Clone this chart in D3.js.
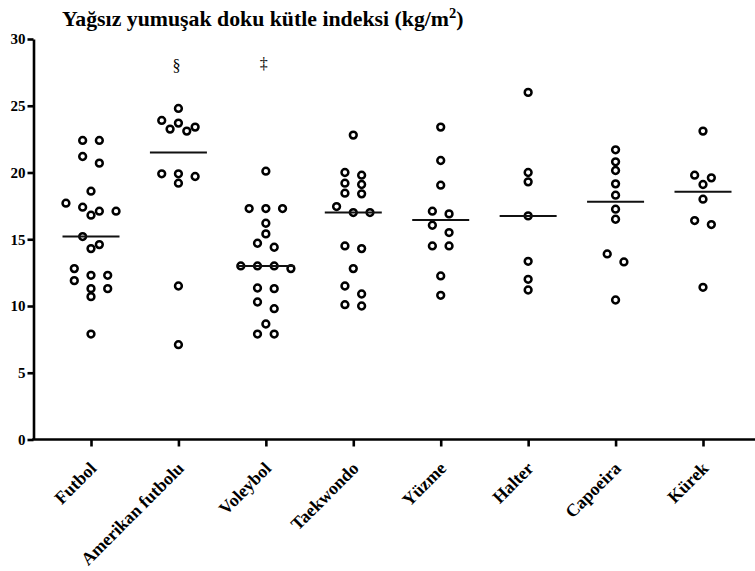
<!DOCTYPE html>
<html><head><meta charset="utf-8">
<script src="https://cdn.jsdelivr.net/npm/d3@7"></script>
<style>
html,body{margin:0;padding:0;background:#fff;}
svg{display:block;font-family:"Liberation Serif","Times New Roman",serif;}
</style></head>
<body><svg id="chart" width="755" height="571"></svg>
<script>
// ---- data ----
const categories = ["Futbol","Amerikan futbolu","Voleybol","Taekwondo","Yüzme","Halter","Capoeira","Kürek"];
const futbol    = [22.4,22.4,21.2,20.7,18.6,17.7,17.4,17.1,17.1,16.8,15.2,14.6,14.3,12.8,12.3,12.3,11.9,11.3,11.3,10.7,7.9];
const amerikan  = [24.8,23.9,23.7,23.4,23.25,23.1,19.9,19.9,19.7,19.2,11.5,7.1];
const voleybol  = [20.1,17.3,17.3,17.3,16.2,15.4,14.7,14.4,13.0,13.0,13.0,12.8,11.35,11.3,10.3,9.8,8.65,7.9,7.9];
const taekwondo = [22.8,20.0,19.8,19.2,19.1,18.45,18.4,17.45,17.0,17.0,14.5,14.3,12.8,11.5,10.9,10.1,10.0];
const yuzme     = [23.4,20.9,19.05,17.1,16.9,16.05,15.5,14.5,14.5,12.25,10.8];
const halter    = [26.0,20.0,19.3,16.75,13.35,12.0,11.2];
const capoeira  = [21.7,20.8,20.15,19.15,18.3,17.25,16.5,13.9,13.3,10.45];
const kurek     = [23.1,19.8,19.6,19.1,18.0,16.4,16.1,11.4];
const medians   = [15.2,21.5,13.0,17.0,16.45,16.75,17.8,18.55];
const yTicks    = [0,5,10,15,20,25,30];
const annotations = [{cat:"Amerikan futbolu", mark:"§", value:28},{cat:"Voleybol", mark:"‡", value:28.2}];
const titleMain = "Yağsız yumuşak doku kütle indeksi (kg/m";
const titleSup = "2";
const titleEnd = ")";

const seriesValues = [futbol,amerikan,voleybol,taekwondo,yuzme,halter,capoeira,kurek];

// ---- scales ----
const svg = d3.select("#chart");
const x = d3.scalePoint().domain(categories).range([91,703]);
const y = d3.scaleLinear().domain([0,30]).range([439.5,39]);
const axisX0 = 33.5;

// ---- beeswarm-like layout ----
const half = 8.35, rowT = 8.1, minD = 8, maxRow = 4;
function layout(vals){
  const pts = vals.map(v=>({v, y:y(v)})).sort((a,b)=>a.y-b.y);
  const placed = [];
  let i=0;
  while(i<pts.length){
    const row=[pts[i]]; let j=i+1;
    while(j<pts.length && pts[j].y-pts[i].y<rowT && row.length<maxRow){row.push(pts[j]); j++;}
    const base=row.map((p,k)=>(k-(row.length-1)/2)*2*half);
    const shifts=[0,-half,half,-2*half,2*half,-3*half,3*half,-4*half,4*half];
    for(const sh of shifts){
      const ok=row.every((p,k)=>placed.every(q=>Math.hypot(q.dx-(base[k]+sh),q.y-p.y)>=minD));
      if(ok){row.forEach((p,k)=>p.dx=base[k]+sh);break;}
    }
    row.forEach((p,k)=>{if(p.dx===undefined)p.dx=base[k];placed.push(p);});
    i=j;
  }
  return placed;
}

// ---- title ----
const title = svg.append("text").attr("x",62).attr("y",26)
  .attr("font-size",21.8).attr("font-weight","bold").attr("fill","#000");
title.append("tspan").text(titleMain);
title.append("tspan").attr("dy",-8.5).attr("font-size",14.5).text(titleSup);
title.append("tspan").attr("dy",8.5).text(titleEnd);

// ---- y axis ----
const gy = svg.append("g").attr("transform",`translate(${axisX0},0)`)
  .call(d3.axisLeft(y).tickValues(yTicks).tickSize(6).tickSizeOuter(0).tickPadding(2));
gy.select(".domain").attr("stroke","#000").attr("stroke-width",2.6);
gy.selectAll(".tick line").attr("stroke","#000").attr("stroke-width",2.6);
gy.selectAll(".tick text").attr("font-size",15).attr("font-weight","bold")
  .attr("font-family","Liberation Serif").attr("fill","#000");

// ---- x axis ----
const gx = svg.append("g").attr("transform",`translate(0,${y(0)})`)
  .call(d3.axisBottom(x).tickSize(7).tickSizeOuter(0));
gx.select(".domain").remove();
gx.append("line").attr("x1",axisX0-1.3).attr("x2",755).attr("y1",0).attr("y2",0)
  .attr("stroke","#000").attr("stroke-width",2.6);
gx.selectAll(".tick line").attr("stroke","#000").attr("stroke-width",2.6);
gx.selectAll(".tick text")
  .attr("font-size",17.8).attr("font-weight","bold").attr("font-family","Liberation Serif").attr("fill","#000")
  .attr("text-anchor","end").attr("dy",0).attr("y",0)
  .attr("transform","translate(6,30) rotate(-45)");

// ---- dots ----
const plot = svg.append("g");
categories.forEach((c,ci)=>{
  const pts = layout(seriesValues[ci]);
  plot.append("g").selectAll("circle").data(pts).join("circle")
    .attr("cx",d=>x(c)+d.dx).attr("cy",d=>d.y).attr("r",3.4)
    .attr("fill","none").attr("stroke","#000").attr("stroke-width",2.5);
  plot.append("line")
    .attr("x1",x(c)-28.5).attr("x2",x(c)+28.5)
    .attr("y1",y(medians[ci])).attr("y2",y(medians[ci]))
    .attr("stroke","#111").attr("stroke-width",2);
});

// ---- annotations ----
svg.selectAll("text.ann").data(annotations).join("text").attr("class","ann")
  .attr("x",d=>x(d.cat)-2).attr("y",d=>y(d.value)).attr("dy","0.35em")
  .attr("text-anchor","middle").attr("font-size",16).attr("fill","#000")
  .text(d=>d.mark);
</script></body></html>
